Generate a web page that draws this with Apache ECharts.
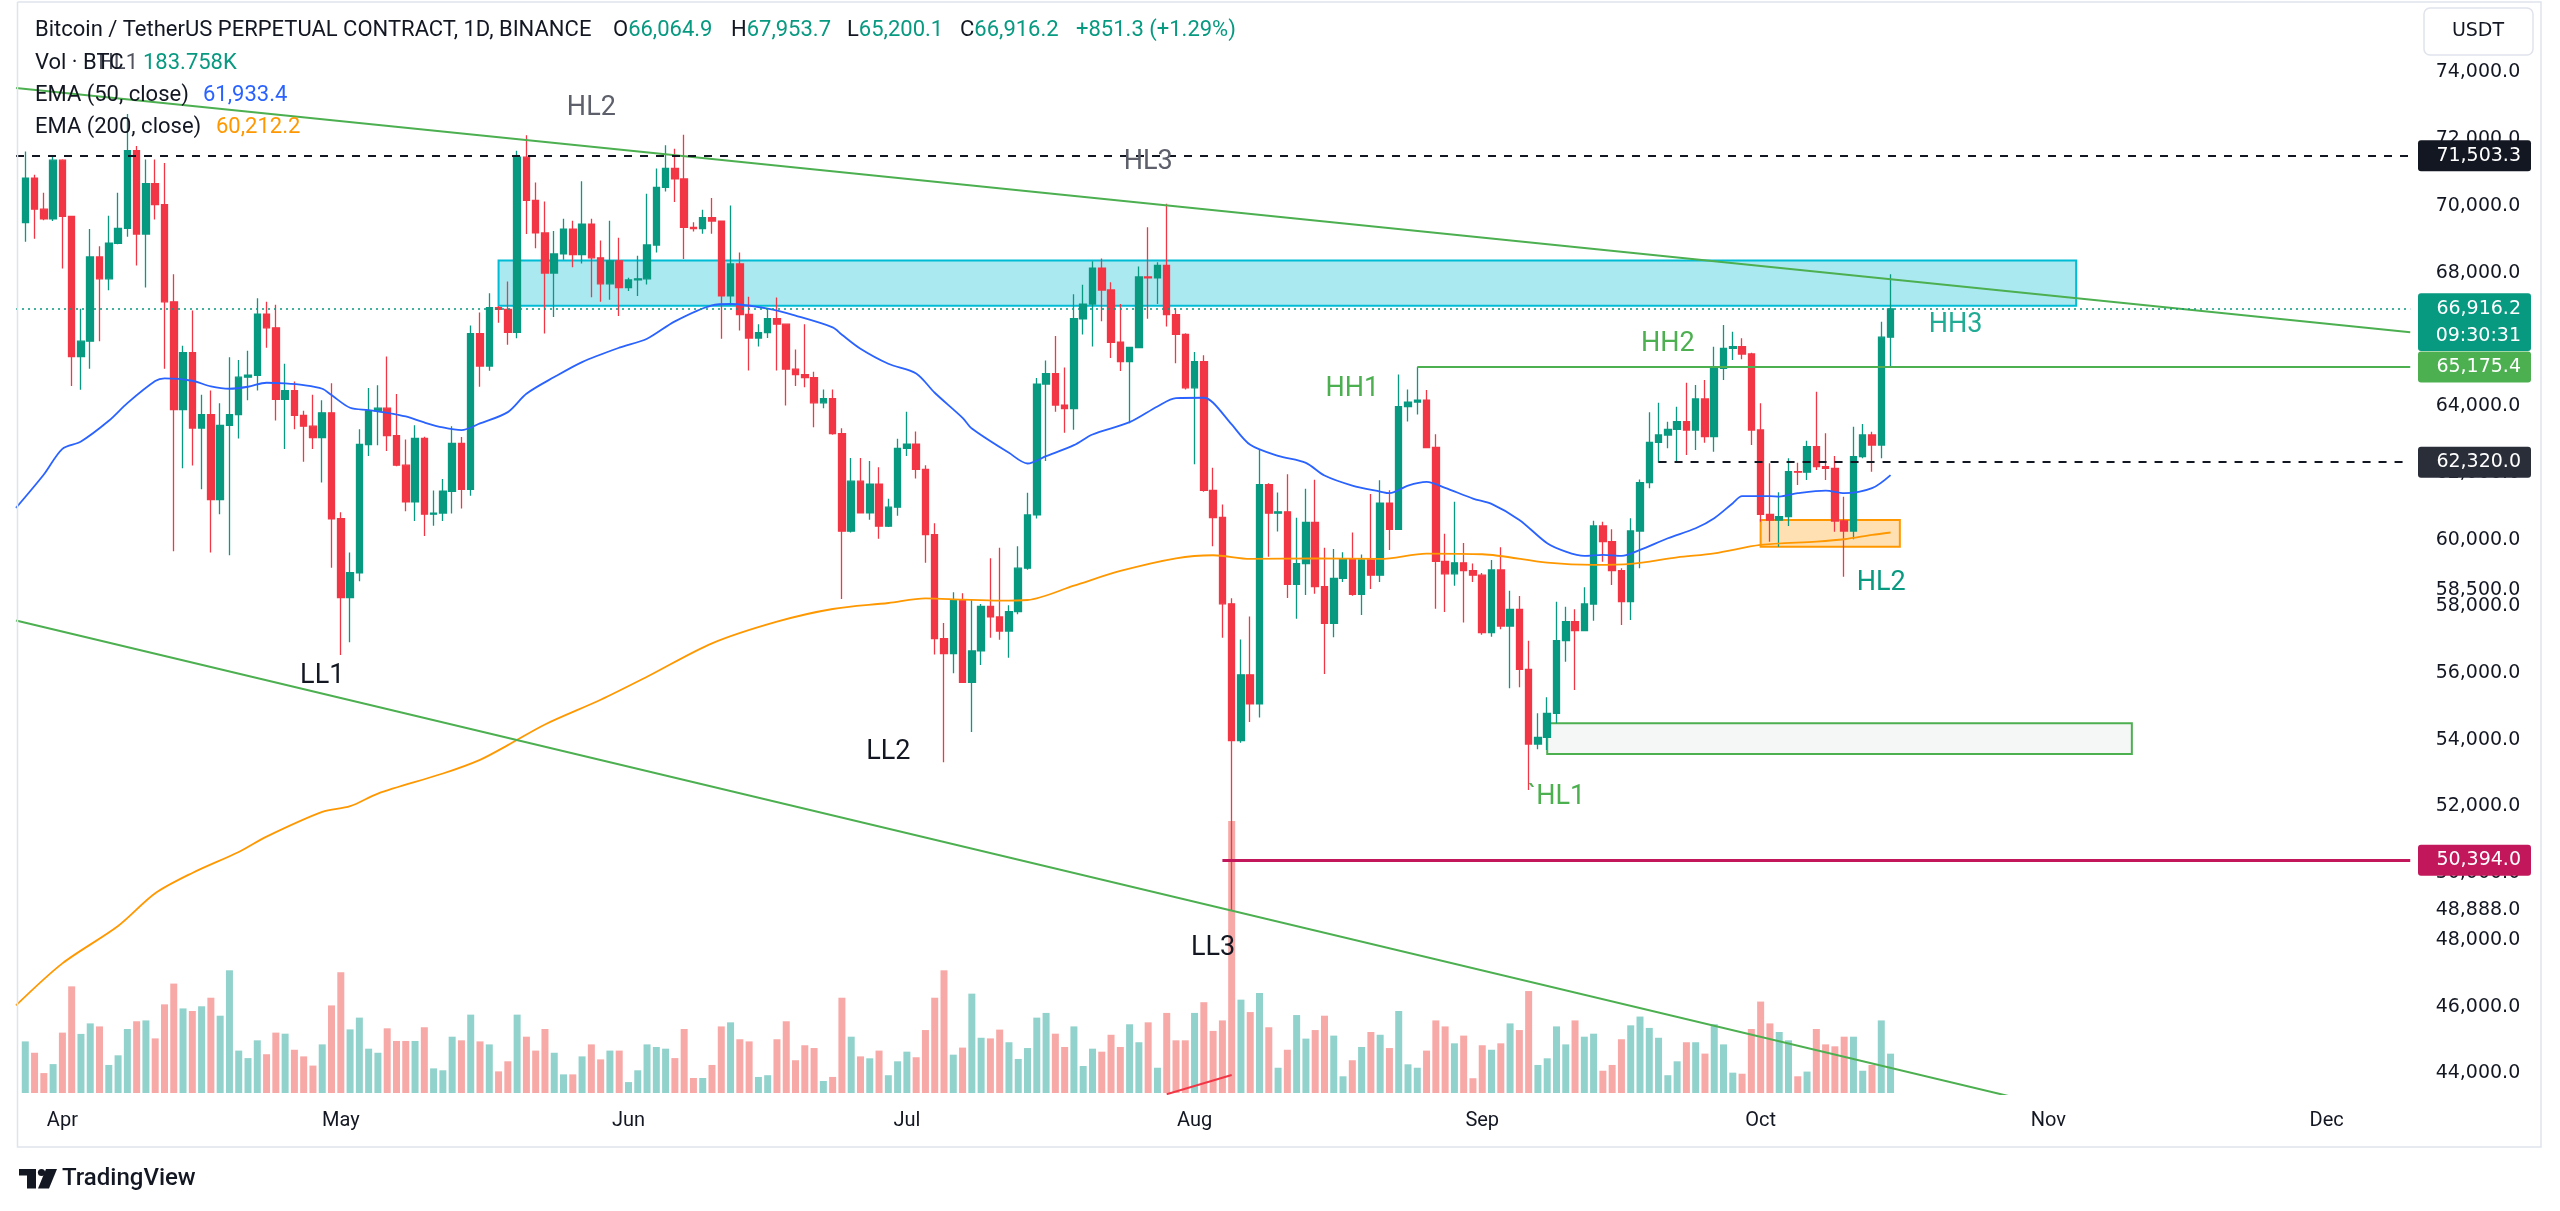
<!DOCTYPE html>
<html><head><meta charset="utf-8">
<script src="https://cdn.jsdelivr.net/npm/echarts@6/dist/echarts.min.js"></script>
<style>html,body{margin:0;padding:0;background:#fff;overflow:hidden}#c{width:2560px;height:1211px}</style>
</head><body><div id="c"></div>
<script>
// ---------------- DATA ----------------
const firstCandleDate = '2024-03-28';
const axisStartDate = '2024-03-27';
const axisDays = 259; // through 2024-12-10
const monthNames = ['Jan','Feb','Mar','Apr','May','Jun','Jul','Aug','Sep','Oct','Nov','Dec'];

const opens = [69499,70829,69902,69615,
71369,69684,65487,65945,68468,67814,68881,69328,71656,69156,
70670,70039,67126,63892,65601,63342,63743,61197,63422,63743,
64867,64925,66759,66346,64202,64466,63720,63399,63055,63800,
60624,58262,59007,62849,63858,63938,63113,62230,61129,63032,
60761,60796,61449,62883,61507,66174,65200,66954,66900,66209,
71461,70165,69191,67987,68560,69305,68537,69455,68445,67666,68354,
67551,67780,67815,68828,70556,71123,70808,69357,69320,69647,
69546,67301,68260,66746,66040,66204,66620,66456,65107,64943,
64855,64098,64224,63177,60251,61752,60805,61663,60402,60970,
62735,62862,62105,60150,57034,56580,58186,55725,56665,57997,
57684,57260,57841,59142,60740,64659,64972,64032,63922,66618,
67057,68138,67480,65913,65333,65756,67872,67840,68216,66743,66148,
64549,65333,61477,60662,58076,53980,55947,55080,61645,60791,
60833,58658,59278,60516,58590,57489,58837,59415,58356,59388,
58933,61094,60310,63984,64120,64180,62760,59346,58975,59305,59071,
58933,57210,59088,57410,57910,56112,53874,54074,54793,56971,
57540,57271,58070,60407,59938,59068,58140,60257,61705,62914,
63134,63304,63534,63284,64213,63084,65132,65731,65781,65562,
63284,60757,60587,60687,62036,62020,62784,62185,62135,60557,
60257,62485,63134,62834,66064.9];

const highs = [71633,70934,70395,71484,
71400,69700,66920,69305,68789,69707,70395,72750,71794,71392,
71392,71289,67952,65807,66863,64340,64466,64088,65464,65384,
65659,67229,67126,67034,65269,64741,63858,64340,64179,64684,
60820,59615,63308,64546,64626,65487,64363,62998,63423,63080,
61472,61817,63400,63078,66415,66805,67379,67000,67734,71656,
72115,70704,70131,69248,69615,69558,70739,69615,68961,69558,69042,
67850,68503,70366,71123,71817,71716,72132,69510,69887,70240,
69546,70013,68601,67276,66456,66923,67251,66456,65699,66456,
65030,64500,64500,63340,62445,62445,62357,62168,61222,63025,
63833,63240,62231,60490,57501,58421,58390,58186,58070,59440,
59753,58030,59800,61400,64846,65364,66101,65160,67355,67637,
68342,68420,67715,67057,65756,68185,69361,68311,70066,66931,66180,
65620,65525,62150,61050,58240,57007,57695,62718,61690,61411,
61961,60654,61521,61796,59759,59718,59620,60213,59550,61369,
61782,61480,64950,64500,65175,64480,63158,60172,61135,59896,59280,
59000,59388,59768,58469,58309,56971,54793,55272,58140,57990,
57910,58569,60567,60537,60307,59138,60637,61800,63813,64103,
63534,63983,64702,64632,64782,65781,66430,66231,66031,65600,
64083,62285,61416,62435,62305,62964,64433,63184,62505,61286,
63384,63464,63234,66530,67953.7];

const lows = [68926,69018,69569,69550,
68124,64603,64489,65120,65945,67470,68850,69076,68216,67551,
69592,65120,59650,62138,62218,61507,59614,60762,59534,63032,
64179,64466,65750,63571,62711,63308,62333,62711,61713,59156,
56541,56920,58755,62505,62826,62654,62195,60853,60555,60108,
60418,60555,60784,60934,61312,64580,65062,66500,65842,66037,
69156,68732,66174,66668,68388,68159,68273,67264,67126,67184,66702,
67450,67298,67643,68600,70429,70114,68411,69230,69168,69168,
66015,67024,66267,65069,65790,66040,65069,64022,64602,64564,
63366,63935,63140,58220,60210,60780,60591,60024,60380,60717,
62508,61827,59305,56555,53330,55993,55700,54236,56243,57057,
57000,56462,57765,59095,60630,62355,63828,63201,63295,66148,
65787,66540,65443,65051,63483,65756,66618,67057,66383,65286,64500,
62261,61430,59800,57057,48888,53911,54530,54668,59484,60241,
58246,57626,58342,58380,55975,57076,58727,58315,57737,58521,
58727,59690,60310,63540,63750,62760,57929,57833,58617,57516,58727,
57145,57090,57310,55542,55572,52496,53715,53695,54494,56341,
55492,57271,57570,59338,58639,57440,57590,59139,61536,62305,
62734,62335,62534,62684,62904,62634,64782,65382,65402,62834,
60537,59938,59788,60407,61636,61785,62085,61785,60237,58888,
60008,62435,62035,62435,65200.1];

const closes = [70829,69902,69615,71369,
69684,65487,65945,68468,67814,68881,69328,71656,69156,70670,
70039,67126,63892,65601,63342,63743,61197,63422,63743,64867,
64925,66759,66346,64202,64466,63720,63399,63055,63800,60624,
58262,59007,62849,63858,63938,63113,62230,61129,63032,60761,
60796,61449,62883,61507,66174,65200,66954,66900,66209,71461,
70165,69191,67987,68560,69305,68537,69455,68445,67666,68354,67551,
67780,67815,68828,70556,71123,70808,69357,69320,69647,69546,
67301,68260,66746,66040,66204,66620,66456,65107,64943,64855,
64098,64224,63177,60251,61752,60805,61663,60402,60970,62735,
62862,62105,60150,57034,56580,58186,55725,56665,57997,57684,
57260,57841,59142,60740,64659,64972,64032,63922,66618,67057,
68138,67480,65913,65333,65756,67872,67840,68216,66743,66148,64549,
65333,61477,60662,58076,53980,55947,55080,61645,60791,60833,
58658,59278,60516,58590,57489,58837,59415,58356,59388,58933,
61094,60310,63984,64120,64180,62760,59346,58975,59305,59071,58933,
57210,59088,57410,57910,56112,53874,54074,54793,56971,57540,
57271,58070,60407,59938,59068,58140,60257,61705,62914,63134,
63304,63534,63284,64213,63084,65132,65731,65781,65562,63284,
60757,60587,60687,62036,62020,62784,62185,62135,60557,60257,
62485,63134,62834,66064.9,66916.2];

// volume, thousands of BTC
const volumes = [241,188,93,135,
282,498,276,325,311,131,176,299,335,339,
255,414,511,395,383,405,445,361,573,198,
163,246,181,282,277,202,171,128,227,409,
564,297,352,207,188,302,243,243,243,307,
115,106,263,246,366,241,227,101,148,366,
263,198,299,188,87,87,171,227,157,198,198,
51,106,227,215,207,163,299,70,70,131,
311,330,251,241,75,83,251,335,153,223,
210,56,75,445,263,171,162,198,83,148,
193,167,294,445,573,179,212,464,258,255,
296,237,159,210,352,374,277,215,311,126,
207,193,272,215,321,237,330,118,374,246,246,
374,424,290,339,1270,436,378,467,307,118,
202,364,254,294,361,268,78,153,215,285,
272,210,383,134,118,198,339,311,232,268,69,
223,202,232,325,294,476,131,162,311,227,
339,263,277,104,131,251,316,357,304,258,
83,148,237,237,184,321,227,95,90,299,
427,325,285,246,78,100,299,227,218,263,
263,104,131,339,183.758];

const ema50Dates = ['2024-03-27','2024-03-30','2024-04-01','2024-04-03','2024-04-06','2024-04-08','2024-04-11','2024-04-12','2024-04-15','2024-04-17','2024-04-19','2024-04-21','2024-04-23','2024-04-25','2024-04-27','2024-04-29','2024-04-30','2024-05-02','2024-05-04','2024-05-06','2024-05-08','2024-05-10','2024-05-12','2024-05-14','2024-05-16','2024-05-19','2024-05-21','2024-05-24','2024-05-27','2024-05-31','2024-06-03','2024-06-06','2024-06-10','2024-06-12','2024-06-16','2024-06-19','2024-06-23','2024-06-24','2024-06-26','2024-06-29','2024-07-02','2024-07-04','2024-07-07','2024-07-08','2024-07-12','2024-07-14','2024-07-16','2024-07-19','2024-07-21','2024-07-25','2024-07-28','2024-07-30','2024-08-02','2024-08-03','2024-08-05','2024-08-07','2024-08-10','2024-08-13','2024-08-15','2024-08-18','2024-08-21','2024-08-22','2024-08-24','2024-08-26','2024-08-28','2024-08-31','2024-09-02','2024-09-05','2024-09-08','2024-09-10','2024-09-12','2024-09-14','2024-09-16','2024-09-18','2024-09-21','2024-09-24','2024-09-26','2024-09-28','2024-09-29','2024-10-02','2024-10-03','2024-10-05','2024-10-08','2024-10-10','2024-10-13','2024-10-15'];
const ema50Values = [60950,61950,62720,62940,63560,64090,64750,64830,64760,64590,64520,64580,64700,64680,64630,64520,64330,63950,63880,63800,63690,63510,63360,63280,63480,63820,64370,64870,65320,65750,66020,66540,67020,67060,66920,66710,66360,66140,65720,65270,64980,64400,63650,63330,62600,62280,62500,62830,63150,63520,63990,64240,64250,64100,63450,62840,62510,62300,61920,61620,61440,61390,61620,61730,61550,61230,61070,60590,59890,59640,59510,59540,59510,59690,60040,60340,60640,61090,61300,61300,61290,61390,61470,61390,61540,61933.4];

const ema200Dates = ['2024-03-27','2024-04-01','2024-04-07','2024-04-11','2024-04-15','2024-04-20','2024-04-23','2024-04-29','2024-05-02','2024-05-05','2024-05-12','2024-05-16','2024-05-19','2024-05-23','2024-05-29','2024-06-03','2024-06-10','2024-06-17','2024-06-23','2024-06-29','2024-07-03','2024-07-07','2024-07-11','2024-07-14','2024-07-19','2024-07-24','2024-07-30','2024-08-03','2024-08-07','2024-08-14','2024-08-21','2024-08-26','2024-09-01','2024-09-08','2024-09-13','2024-09-17','2024-09-22','2024-09-26','2024-10-01','2024-10-07','2024-10-10','2024-10-13','2024-10-15'];
const ema200Values = [46040,47300,48420,49400,50010,50640,51100,51840,52010,52390,52990,53400,53840,54460,55200,55890,56890,57540,57920,58100,58240,58200,58170,58190,58620,59060,59440,59530,59420,59440,59420,59580,59560,59310,59240,59270,59470,59590,59840,59940,60010,60140,60212.2];

const priceTicks = [44000,46000,48000,50000,52000,54000,56000,58000,60000,62000,64000,66000,68000,70000,72000,74000,58500,48888];

// drawings (anchors: date, price)
const upperTrend = [['2024-03-27',73534],['2024-12-10',66212]];
const lowerTrend = [['2024-03-27',57574],['2024-12-10',40453]];
const smallRedLine = [['2024-07-29',43380],['2024-08-05',43955]];
const resistanceBox = [['2024-05-18',68363],['2024-11-04',67011]];
const orangeBox = [['2024-10-01',60587],['2024-10-16',59787]];
const supportBox = [['2024-09-08',54494],['2024-11-10',53574]];
const levelHigh = 71503.3;
const levelMid = ['2024-09-20',62320];
const levelHH = ['2024-08-25',65175.4];
const levelLow = ['2024-08-04',50394];
const lastDate = '2024-12-10';

const labels = [
  {t:'HL1', d:'2024-04-07', p:74280, c:'#50535e', s:22},
  {t:'HL2', d:'2024-05-28', p:72930, c:'#5d606b', s:27},
  {t:'HL3', d:'2024-07-27', p:71315, c:'#5d606b', s:27},
  {t:'LL1', d:'2024-04-29', p:55912, c:'#131722', s:27},
  {t:'LL2', d:'2024-06-29', p:53635, c:'#131722', s:27},
  {t:'LL3', d:'2024-08-03', p:47761, c:'#131722', s:27},
  {t:'HH1', d:'2024-08-18', p:64512, c:'#4caf50', s:27},
  {t:'HH2', d:'2024-09-21', p:65861, c:'#4caf50', s:27},
  {t:'HH3', d:'2024-10-22', p:66430, c:'#22ab94', s:27},
  {t:'`HL1', d:'2024-09-09', p:52286, c:'#4caf50', s:27},
  {t:'HL2', d:'2024-10-14', p:58699, c:'#089981', s:27}
];

// ---------------- BUILD ----------------
const fmt1 = v => Number(v).toLocaleString('en-US',{minimumFractionDigits:1,maximumFractionDigits:1});
const categories = [];
{
  const d0 = new Date(axisStartDate + 'T00:00:00Z');
  for (let i = 0; i < axisDays; i++) {
    const d = new Date(d0.getTime() + i*86400000);
    categories.push(d.toISOString().slice(0,10));
  }
}
const off = categories.indexOf(firstCandleDate);
const candleData = categories.map(() => '-');
const volData = categories.map(() => '-');
for (let i = 0; i < closes.length; i++) {
  candleData[off+i] = [opens[i], closes[i], lows[i], highs[i]];
  const up = closes[i] >= opens[i];
  volData[off+i] = {value: volumes[i], itemStyle:{color: up ? '#92d2cc' : '#f7a9a7'}};
}
const ema50Data = ema50Dates.map((d,i)=>[d, ema50Values[i]]);
const ema200Data = ema200Dates.map((d,i)=>[d, ema200Values[i]]);

const GREEN = '#4caf50';
const lineSeries = (data, color, width, extra) => Object.assign({
  type:'line', data, xAxisIndex:0, yAxisIndex:0, symbol:'none', silent:true,
  lineStyle:{color, width}, z:4
}, extra||{});

const option = {
  animation:false,
  backgroundColor:'#ffffff',
  grid:[
    {left:16, top:2, width:2394.24, height:1092},
    {left:16, top:793, width:2394.24, height:300}
  ],
  xAxis:[
    {type:'category', gridIndex:0, data:categories, boundaryGap:false,
     axisLine:{show:false}, axisTick:{show:false}, splitLine:{show:false},
     axisLabel:{interval:(i,v)=>v.slice(8)==='01', formatter:v=>monthNames[+v.slice(5,7)-1],
       color:'#131722', fontSize:20, fontFamily:'Roboto', margin:17}},
    {type:'category', gridIndex:1, data:categories, boundaryGap:false, show:false}
  ],
  yAxis:[
    {type:'value', gridIndex:0, position:'right', min:43386, max:76110,
     splitLine:{show:false}, axisLine:{show:false}, axisTick:{show:false},
     axisLabel:{customValues:priceTicks, formatter:v=>fmt1(v), align:'right', margin:110,
       color:'#131722', fontSize:19, fontFamily:'DejaVu Sans'}},
    {type:'value', gridIndex:1, min:0, max:1401, show:false}
  ],
  series:[
    {type:'bar', xAxisIndex:1, yAxisIndex:1, data:volData, barWidth:7, silent:true, z:1},
    {type:'candlestick', xAxisIndex:0, yAxisIndex:0, data:candleData, barWidth:7, z:3,
     itemStyle:{color:'#089981', color0:'#f23645', borderColor:'#089981', borderColor0:'#f23645', borderWidth:1.3},
     markArea:{silent:true, data:[
       [{coord:resistanceBox[0], itemStyle:{color:'rgba(0,188,212,0.33)', borderColor:'#00bcd4', borderWidth:2}}, {coord:resistanceBox[1]}],
       [{coord:orangeBox[0], itemStyle:{color:'rgba(255,152,0,0.3)', borderColor:'#ff9800', borderWidth:2}}, {coord:orangeBox[1]}],
       [{coord:supportBox[0], itemStyle:{color:'rgba(120,140,130,0.07)', borderColor:GREEN, borderWidth:2}}, {coord:supportBox[1]}]
     ]},
     markLine:{silent:true, symbol:['none','none'], label:{show:false}, data:[
       {yAxis:levelHigh, lineStyle:{color:'#131722', width:2, type:[8,8]}},
       {yAxis:closes[closes.length-1], lineStyle:{color:'#089981', width:1.5, type:[2,4]}},
       [{coord:levelMid, lineStyle:{color:'#131722', width:2, type:[8,8]}}, {coord:[lastDate, levelMid[1]]}],
       [{coord:levelHH, lineStyle:{color:GREEN, width:2, type:'solid'}}, {coord:[lastDate, levelHH[1]]}],
       [{coord:levelLow, lineStyle:{color:'#c2185b', width:3, type:'solid'}}, {coord:[lastDate, levelLow[1]]}]
     ]}
    },
    lineSeries(ema200Data, '#ff9800', 1.8, {smooth:0.3}),
    lineSeries(ema50Data, '#2962ff', 1.8, {smooth:0.3}),
    lineSeries(upperTrend, GREEN, 2),
    lineSeries(lowerTrend, GREEN, 2),
    lineSeries(smallRedLine, '#f23645', 2)
  ]
};

const chart = echarts.init(document.getElementById('c'), null, {renderer:'canvas', width:2560, height:1211});
chart.setOption(option);

// ---------------- OVERLAYS positioned through the chart's scales ----------------
const yPx = v => chart.convertToPixel({yAxisIndex:0}, v);
const ptPx = (d, v) => chart.convertToPixel({gridIndex:0}, [d, v]);
const g = [];
const TXT = '#131722';
const hdrFont = 'Roboto';
const HF = 22;

// frame
g.push({type:'polyline', silent:true, z:50, shape:{points:[[17.5,2],[2541,2],[2541,1147],[17.5,1147],[17.5,2]]}, style:{stroke:'#e0e3eb', lineWidth:1.5, fill:null}});

// annotation labels
labels.forEach(l => {
  const [x, y] = ptPx(l.d, l.p);
  g.push({type:'text', silent:true, z:60, x, y, style:{text:l.t, fill:l.c, font:`${l.s}px ${hdrFont}`, align:'center', verticalAlign:'middle'}});
});

// price tags
const tags = [
  {p:levelHigh, bg:'#131722'},
  {p:closes[closes.length-1], bg:'#089981', sub:'09:30:31'},
  {p:levelHH[1], bg:'#4caf50'},
  {p:levelMid[1], bg:'#2a2e39'},
  {p:levelLow[1], bg:'#c2185b'}
];
tags.forEach(t => {
  const y = yPx(t.p);
  const h = t.sub ? 57.6 : 31;
  g.push({type:'rect', silent:true, z:70, shape:{x:2418, y:y-15.5, width:113, height:h, r:3}, style:{fill:t.bg}});
  g.push({type:'text', silent:true, z:71, x:2521, y:y, style:{text:fmt1(t.p), fill:'#ffffff', font:'19px DejaVu Sans', align:'right', verticalAlign:'middle'}});
  if (t.sub) g.push({type:'text', silent:true, z:71, x:2521, y:y+27, style:{text:t.sub, fill:'#ffffff', font:'19px DejaVu Sans', align:'right', verticalAlign:'middle'}});
});
// currency box
g.push({type:'rect', silent:true, z:70, shape:{x:2424, y:8, width:109, height:47, r:6}, style:{fill:'#ffffff', stroke:'#e0e3eb', lineWidth:1.5}});
g.push({type:'text', silent:true, z:71, x:2478, y:31.5, style:{text:'USDT', fill:TXT, font:'19px DejaVu Sans', align:'center', verticalAlign:'middle'}});

// header legend
const n = closes.length - 1;
const chg = closes[n] - closes[n-1];
const pct = chg / closes[n-1] * 100;
const TEAL = '#089981';
const hdr = (x, y, text, rich) => g.push({type:'text', silent:true, z:80, x, y, style:{text, rich, fill:TXT, font:`${HF}px ${hdrFont}`, verticalAlign:'middle'}});
const rk = {k:{fill:TXT, fontSize:HF, fontFamily:hdrFont}, v:{fill:TEAL, fontSize:HF, fontFamily:hdrFont}};
hdr(35, 30.5, 'Bitcoin / TetherUS PERPETUAL CONTRACT, 1D, BINANCE');
hdr(613, 30.5, `{k|O}{v|${fmt1(opens[n])}}`, rk);
hdr(731, 30.5, `{k|H}{v|${fmt1(highs[n])}}`, rk);
hdr(847, 30.5, `{k|L}{v|${fmt1(lows[n])}}`, rk);
hdr(960, 30.5, `{k|C}{v|${fmt1(closes[n])}}`, rk);
hdr(1076, 30.5, `{v|${chg>=0?'+':''}${fmt1(chg)} (${chg>=0?'+':''}${pct.toFixed(2)}%)}`, rk);
hdr(35, 63, 'Vol · BTC');
hdr(143, 63, `{v|${volumes[n].toFixed(3)}K}`, rk);
hdr(35, 95, 'EMA (50, close)');
hdr(203, 95, `{b|${fmt1(ema50Values[ema50Values.length-1])}}`, {b:{fill:'#2962ff', fontSize:HF, fontFamily:hdrFont}});
hdr(35, 127, 'EMA (200, close)');
hdr(216, 127, `{o|${fmt1(ema200Values[ema200Values.length-1])}}`, {o:{fill:'#ff9800', fontSize:HF, fontFamily:hdrFont}});

// TradingView logo
g.push({type:'rect', silent:true, z:80, shape:{x:19, y:1169, width:17, height:6.5}, style:{fill:TXT}});
g.push({type:'rect', silent:true, z:80, shape:{x:27, y:1169, width:9, height:19.5}, style:{fill:TXT}});
g.push({type:'circle', silent:true, z:80, shape:{cx:41.5, cy:1172.5, r:3.6}, style:{fill:TXT}});
g.push({type:'polygon', silent:true, z:80, shape:{points:[[46,1169],[57,1169],[49,1188.5],[38,1188.5]]}, style:{fill:TXT}});
g.push({type:'text', silent:true, z:80, x:62, y:1179, style:{text:'TradingView', fill:TXT, font:'500 24px Roboto', verticalAlign:'middle'}});

chart.setOption({graphic:g});
</script></body></html>
